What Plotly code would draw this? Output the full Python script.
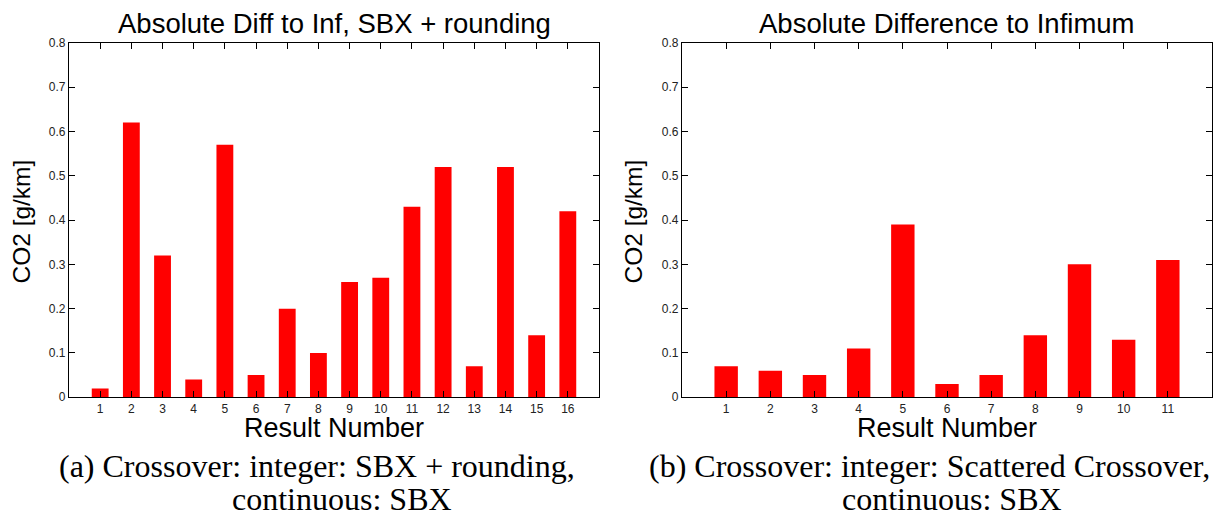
import plotly.graph_objects as go

# Result numbers and CO2 differences (g/km) for the two crossover setups
results_a = list(range(1, 17))
co2_diff_a = [0.02, 0.62, 0.32, 0.04, 0.57, 0.05, 0.20, 0.10,
              0.26, 0.27, 0.43, 0.52, 0.07, 0.52, 0.14, 0.42]

results_b = list(range(1, 12))
co2_diff_b = [0.07, 0.06, 0.05, 0.11, 0.39, 0.03, 0.05, 0.14,
              0.30, 0.13, 0.31]

y_ticks = [0, 0.1, 0.2, 0.3, 0.4, 0.5, 0.6, 0.7, 0.8]
y_tick_text = ["0", "0.1", "0.2", "0.3", "0.4", "0.5", "0.6", "0.7", "0.8"]

titles = ["Absolute Diff to Inf, SBX + rounding", "Absolute Difference to Infimum"]
caption_lines = [
    ["(a) Crossover: integer: SBX + rounding,", "continuous: SBX"],
    ["(b) Crossover: integer: Scattered Crossover,", "continuous: SBX"],
]

W, H = 1214, 516
SANS = "Liberation Sans, Arial, sans-serif"
SERIF = "Liberation Serif, Times New Roman, serif"


def py(px):
    """Vertical pixel position (from the top) -> paper fraction."""
    t = (px - 6.07) / 0.9746
    return 1 - t / H


def px_x(px):
    return px / W


fig = go.Figure()
fig.add_trace(go.Bar(x=results_a, y=co2_diff_a, width=0.54,
                     marker=dict(color="#ff0000", line=dict(width=0)),
                     xaxis="x", yaxis="y", showlegend=False))
fig.add_trace(go.Bar(x=results_b, y=co2_diff_b, width=0.53,
                     marker=dict(color="#ff0000", line=dict(width=0)),
                     xaxis="x2", yaxis="y2", showlegend=False))

ydom = [py(397), py(42)]
xdom_a = [px_x(69), px_x(599)]
xdom_b = [px_x(682), px_x(1212)]

axis_common = dict(showline=True, linecolor="black", linewidth=1.4,
                   mirror="allticks", ticks="inside", ticklen=6,
                   tickcolor="black", tickwidth=1, showgrid=False,
                   zeroline=False, tickfont=dict(family=SANS, size=12, color="#222"))

fig.update_layout(
    width=W, height=H,
    margin=dict(l=0, r=0, t=0, b=0),
    paper_bgcolor="white", plot_bgcolor="white",
    xaxis=dict(domain=xdom_a, range=[0, 17], tickvals=results_a,
               anchor="y", **axis_common),
    yaxis=dict(domain=ydom, range=[0, 0.8], tickvals=y_ticks,
               ticktext=y_tick_text, anchor="x", **axis_common),
    xaxis2=dict(domain=xdom_b, range=[0, 12], tickvals=results_b,
                anchor="y2", **axis_common),
    yaxis2=dict(domain=ydom, range=[0, 0.8], tickvals=y_ticks,
                ticktext=y_tick_text, anchor="x2", **axis_common),
)

panel_centers = [(xdom_a[0] + xdom_a[1]) / 2, (xdom_b[0] + xdom_b[1]) / 2]
ylabel_x = [px_x(22), px_x(634)]
caption_x = [[px_x(317), px_x(342)], [px_x(929), px_x(952)]]


def label(text, x, y, family, size, angle=0):
    fig.add_annotation(text=text, x=x, y=y, xref="paper", yref="paper",
                       xanchor="center", yanchor="middle", showarrow=False,
                       align="center", textangle=angle,
                       font=dict(family=family, size=size, color="black"))


for i in range(2):
    label(titles[i], panel_centers[i], py(23), SANS, 27.5)
    label("Result Number", panel_centers[i], py(428), SANS, 27)
    label("CO2 [g/km]", ylabel_x[i], py(221), SANS, 24.5, angle=-90)
    label(caption_lines[i][0], caption_x[i][0], py(466), SERIF, 32)
    label(caption_lines[i][1], caption_x[i][1], py(499), SERIF, 32)

fig.write_html("out.html")
